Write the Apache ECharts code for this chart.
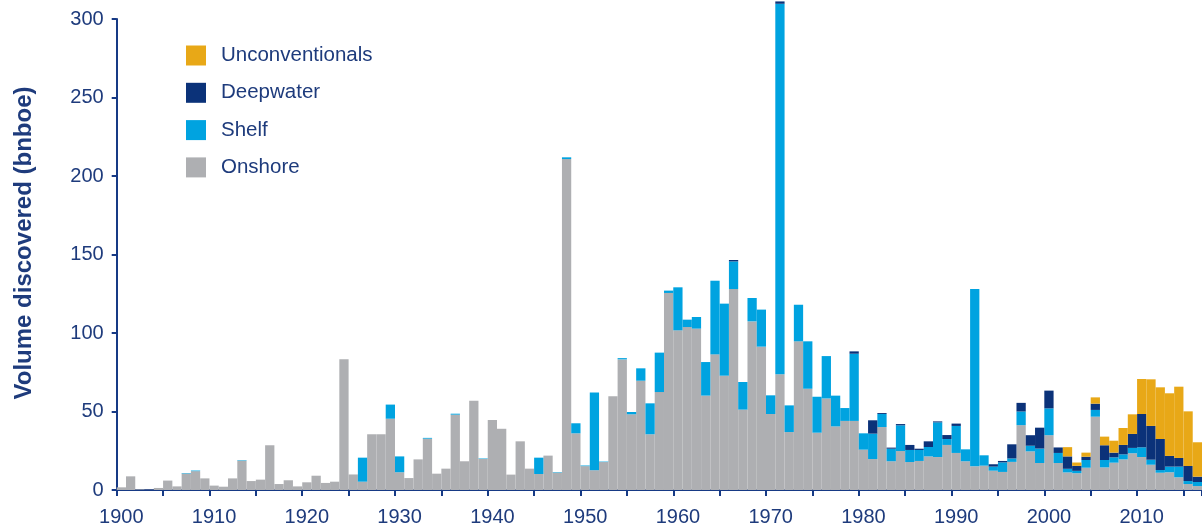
<!DOCTYPE html>
<html>
<head>
<meta charset="utf-8">
<script src="https://cdn.jsdelivr.net/npm/echarts@6/dist/echarts.min.js"></script>
<style>
html,body{margin:0;padding:0;background:#fff;}
#chart{width:1202px;height:527px;}
</style>
</head>
<body>
<div id="chart"></div>
<script>
// Years 1900..2016
var years = [];
for (var y = 1900; y <= 2016; y++) years.push(String(y));

var seriesNames = ['Unconventionals', 'Deepwater', 'Shelf', 'Onshore'];
var yAxisTitle = 'Volume discovered (bnboe)';

var onshore = [
  1.7, 8.7, 0.4, 0.2, 1.3, 6, 2.3, 10.5, 12, 7.4,
  2.8, 2.1, 7.4, 18.7, 5.7, 6.6, 28.5, 3.8, 6.2, 2.3,
  4.9, 9.1, 4.5, 5.3, 83.3, 9.9, 5.3, 35.5, 35.5, 45.4,
  11.3, 7.6, 19.5, 32.7, 10.4, 13.6, 48, 18.3, 56.9, 19.8,
  44.6, 39, 9.8, 31, 13.6, 10.2, 21.9, 11.1, 210.8, 36.1,
  15.2, 12.6, 17.8, 59.7, 83.2, 48.2, 69.6, 35.5, 62.4, 125.5,
  101.7, 103.8, 102.8, 60.1, 86.4, 72.8, 128, 51.2, 107.4, 91.3,
  48.4, 73.7, 36.9, 94.7, 64.5, 36.5, 58.3, 40.5, 44, 44,
  25.7, 19.7, 40.1, 18.3, 24.8, 17.8, 18.5, 21.4, 21, 28.7,
  23.6, 18.3, 15.1, 15.5, 12.3, 11.5, 17.9, 41.3, 24.6, 17.2,
  34.9, 17.2, 11.2, 10.7, 14.2, 46.7, 14.4, 17.4, 19.5, 23.4,
  21, 16.1, 11, 11.3, 8.1, 3.8, 2.5
];

var shelf = [
  0, 0, 0, 0, 0, 0, 0, 0.3, 0.4, 0,
  0, 0, 0, 0.3, 0, 0, 0, 0, 0, 0,
  0, 0, 0, 0, 0, 0, 15.3, 0, 0, 9,
  10.1, 0, 0, 0.5, 0, 0, 0.6, 0, 0, 0.3,
  0, 0, 0, 0, 0, 10.4, 0, 0.3, 1.1, 6.4,
  0.4, 49.5, 0.3, 0, 0.8, 1.5, 7.9, 19.7, 25.1, 1.5,
  27.4, 4.7, 7.4, 21.4, 46.9, 45.9, 17.6, 17.6, 14.9, 23.6,
  11.9, 236, 17, 23.3, 30.2, 22.9, 27, 19.6, 8.2, 42.8,
  10.4, 16.2, 8.3, 8, 16.4, 7.7, 7, 6, 22.1, 3.8,
  17.2, 7.6, 112.9, 6.6, 2.6, 6.1, 2.2, 8.7, 3.6, 9.2,
  17.1, 6.4, 2.3, 1.5, 4.9, 4.3, 4.7, 3.4, 3.2, 3.4,
  6.2, 3.2, 1.7, 3.6, 6.8, 1.9, 2.6
];

var deepwater = [
  0, 0, 0, 0, 0, 0, 0, 0, 0, 0,
  0, 0, 0, 0, 0, 0, 0, 0, 0, 0,
  0, 0, 0, 0, 0, 0, 0, 0, 0, 0,
  0, 0, 0, 0, 0, 0, 0, 0, 0, 0,
  0, 0, 0, 0, 0, 0, 0, 0, 0, 0,
  0, 0, 0, 0, 0, 0, 0, 0, 0, 0,
  0, 0, 0, 0, 0, 0, 0.9, 0, 0, 0,
  0, 1.5, 0, 0, 0, 0, 0, 0, 0, 1.5,
  0, 8.5, 0.6, 0.7, 0.8, 3.2, 0.8, 3.6, 0.6, 2.5,
  1.5, 0, 0, 0, 1.5, 0.9, 9, 5.5, 6.7, 13.3,
  11.3, 3.5, 7.9, 3.2, 2.1, 4, 9.4, 3, 6, 8.9,
  21.2, 21.5, 19.8, 6.8, 5.5, 9.6, 3.4
];

var unconventionals = [
  0, 0, 0, 0, 0, 0, 0, 0, 0, 0,
  0, 0, 0, 0, 0, 0, 0, 0, 0, 0,
  0, 0, 0, 0, 0, 0, 0, 0, 0, 0,
  0, 0, 0, 0, 0, 0, 0, 0, 0, 0,
  0, 0, 0, 0, 0, 0, 0, 0, 0, 0,
  0, 0, 0, 0, 0, 0, 0, 0, 0, 0,
  0, 0, 0, 0, 0, 0, 0, 0, 0, 0,
  0, 0, 0, 0, 0, 0, 0, 0, 0, 0,
  0, 0, 0, 0, 0, 0, 0, 0, 0, 0,
  0, 0, 0, 0, 0, 0, 0, 0, 0, 0,
  0, 0, 5.9, 2.1, 2.6, 4, 5.5, 7.6, 10.8, 12.5,
  22.3, 29.7, 32.9, 39.9, 45.4, 34.8, 21.9
];

var colors = {
  Unconventionals: '#E8A817',
  Deepwater: '#0B3279',
  Shelf: '#00A3E0',
  Onshore: '#AEAFB2'
};
var navy = '#1E3B7C';
var axisNavy = '#173A85';
var fontFam = '"Liberation Sans", Arial, sans-serif';

function mkSeries(name, data) {
  return {
    name: name,
    type: 'bar',
    stack: 'total',
    data: data,
    barCategoryGap: '0%',
    clip: false,
    itemStyle: { color: colors[name] },
    emphasis: { disabled: true }
  };
}

var chart = echarts.init(document.getElementById('chart'), null, { renderer: 'canvas' });
chart.setOption({
  animation: false,
  backgroundColor: '#ffffff',
  textStyle: { fontFamily: fontFam },
  grid: { left: 116.7, right: 0, top: 19, bottom: 37, containLabel: false },
  legend: {
    data: seriesNames,
    orient: 'vertical',
    left: 186,
    top: 45,
    padding: 0,
    itemWidth: 20,
    itemHeight: 20,
    itemGap: 16.3,
    icon: 'rect',
    textStyle: { fontSize: 20.5, color: navy, fontFamily: fontFam, padding: [0, 0, 0, 10] }
  },
  xAxis: {
    type: 'category',
    data: years,
    boundaryGap: true,
    axisLine: { lineStyle: { color: axisNavy, width: 2 } },
    axisTick: {
      show: true,
      length: 6,
      interval: function (i) { return i % 5 === 0; },
      lineStyle: { color: axisNavy, width: 2 }
    },
    axisLabel: {
      interval: function (i) { return i % 10 === 0; },
      fontSize: 20,
      color: navy,
      margin: 17
    },
    splitLine: { show: false }
  },
  yAxis: {
    type: 'value',
    min: 0,
    max: 300,
    interval: 50,
    axisLine: { show: true, lineStyle: { color: axisNavy, width: 2 } },
    axisTick: { show: true, length: 5, lineStyle: { color: axisNavy, width: 2 } },
    axisLabel: { fontSize: 20, color: navy, margin: 13 },
    splitLine: { show: false }
  },
  graphic: [{
    type: 'text',
    x: 24,
    y: 243,
    rotation: Math.PI / 2,
    style: {
      text: yAxisTitle,
      fill: navy,
      font: 'bold 24px "Liberation Sans", Arial, sans-serif',
      textAlign: 'center',
      textVerticalAlign: 'middle'
    }
  }],
  series: [
    mkSeries('Onshore', onshore),
    mkSeries('Shelf', shelf),
    mkSeries('Deepwater', deepwater),
    mkSeries('Unconventionals', unconventionals)
  ]
});
</script>
</body>
</html>
